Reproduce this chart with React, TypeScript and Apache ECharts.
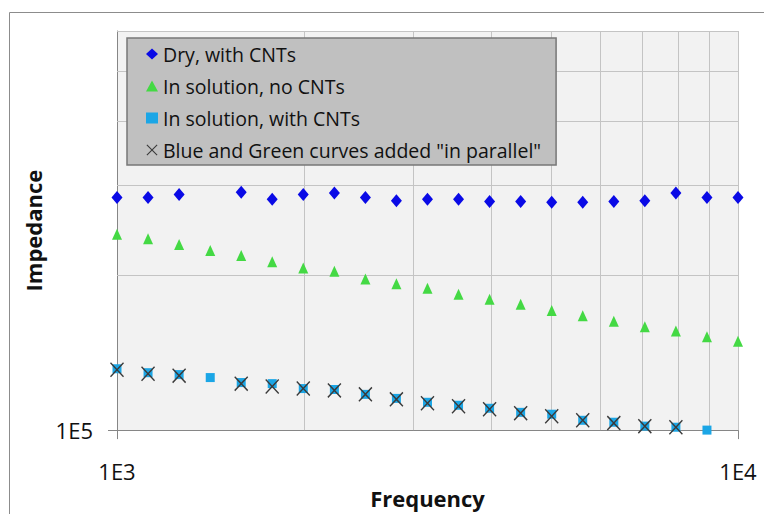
import React, { useEffect, useRef } from "react";
import * as echarts from "echarts";

const frequencies = [1000, 1122, 1259, 1413, 1585, 1778, 1995, 2239, 2512, 2818, 3162, 3548, 3981, 4467, 5012, 5623, 6310, 7079, 7943, 8913, 10000];
const dryWithCNTs = [284000, 284000, 288000, null, 291000, 282000, 288000, 290000, 284000, 280000, 282000, 282000, 279000, 279000, 278000, 278000, 279000, 280000, 290000, 284000, 284000];
const solutionNoCNTs = [241000, 236000, 230000, 224000, 219000, 213000, 207000, 204000, 197000, 193000, 189000, 184000, 180000, 176000, 171000, 167000, 163000, 159000, 156000, 152000, 149000];
const solutionWithCNTs = [131700, 129400, 128300, 126600, 123800, 123200, 120500, 120000, 117400, 115300, 113300, 111800, 110300, 108300, 107400, 104500, 103600, 101800, 101300, 100000, null];
const parallelCurves = [131100, 128800, 127700, null, 123200, 121600, 120500, 119500, 117400, 114800, 112800, 111300, 109800, 107900, 106400, 104500, 103200, 101800, 101300, null, null];

const seriesNames = ["Dry, with CNTs", "In solution, no CNTs", "In solution, with CNTs", 'Blue and Green curves added "in parallel"'];
const xTickValues = [1000, 10000];
const yTickValues = [100000];
const xGridValues = [2000, 3000, 4000, 5000, 6000, 7000, 8000, 9000, 10000];
const yGridValues = [200000, 300000, 400000, 500000, 600000];
const xMin = 1000, xMax = 10000, yMin = 100000, yMax = 600000;

const FONT = "Open Sans";
const xPath = "path://M0,7L7,0L50,43L93,0L100,7L57,50L100,93L93,100L50,57L7,100L0,93L43,50Z";

function pairs(vals: (number | null)[]) {
  const out: number[][] = [];
  vals.forEach((v, i) => { if (v !== null) out.push([frequencies[i], v]); });
  return out;
}

const fmt = (v: number) => {
  const e = Math.round(Math.log10(v));
  return "1E" + e;
};

export default function App() {
  const ref = useRef<HTMLDivElement>(null);
  useEffect(() => {
    document.body.style.margin = "0";
    const chart = echarts.init(ref.current!, undefined, { renderer: "svg" });
    chart.setOption({
      animation: false,
      backgroundColor: "#ffffff",
      textStyle: { fontFamily: FONT },
      graphic: [
        { type: "rect", left: 7, top: 10, shape: { width: 770, height: 520 }, style: { fill: "none", stroke: "#8c8c8c", lineWidth: 1 }, z: -10 },
      ],
      grid: { left: 117, right: 26, top: 31, bottom: 79, show: true, backgroundColor: "#f2f2f2", borderWidth: 0 },
      legend: {
        data: seriesNames,
        orient: "vertical",
        left: 127,
        top: 38,
        z: 20,
        padding: [6, 15, 5, 19],
        itemGap: 12,
        itemWidth: 12,
        itemHeight: 11,
        backgroundColor: "#c0c0c0",
        borderColor: "#777777",
        borderWidth: 1.5,
        textStyle: { fontFamily: FONT, fontSize: 19.5, color: "#111" },
      },
      xAxis: {
        type: "log",
        logBase: 10,
        min: xMin,
        max: xMax,
        name: "Frequency",
        nameLocation: "middle",
        nameGap: 54,
        nameTextStyle: { fontFamily: FONT, fontSize: 22, fontWeight: "bold", color: "#111" },
        axisLine: { show: true, lineStyle: { color: "#868686", width: 1 } },
        axisTick: { show: true, length: 9, inside: false, customValues: xTickValues, lineStyle: { color: "#868686" } },
        axisLabel: { customValues: xTickValues, formatter: fmt, fontSize: 22, color: "#111", margin: 30, fontFamily: FONT },
        splitLine: { show: false },
        minorTick: { show: false },
      },
      yAxis: {
        type: "log",
        logBase: 10,
        min: yMin,
        max: yMax,
        name: "Impedance",
        nameLocation: "middle",
        nameGap: 73,
        nameTextStyle: { fontFamily: FONT, fontSize: 22, fontWeight: "bold", color: "#111" },
        axisLine: { show: true, lineStyle: { color: "#868686", width: 1 } },
        axisTick: { show: true, length: 9, customValues: yTickValues, lineStyle: { color: "#868686" } },
        axisLabel: { customValues: yTickValues, formatter: fmt, fontSize: 22, color: "#111", margin: 24, fontFamily: FONT },
        splitLine: { show: false },
      },
      series: [
        {
          type: "scatter",
          name: "grid",
          data: [],
          z: 0,
          silent: true,
          markLine: {
            z: 1,
            silent: true,
            symbol: "none",
            label: { show: false },
            lineStyle: { color: "#c4c4c4", width: 1, type: "solid" },
            data: [
              ...xGridValues.map((v) => ({ xAxis: v })),
              ...yGridValues.map((v) => ({ yAxis: v })),
            ],
          },
        },
        {
          type: "scatter",
          name: seriesNames[0],
          data: pairs(dryWithCNTs),
          symbol: "diamond",
          symbolSize: [11, 13],
          clip: false,
          itemStyle: { color: "#0a0ae6", opacity: 1 },
          z: 3,
        },
        {
          type: "scatter",
          name: seriesNames[1],
          data: pairs(solutionNoCNTs),
          symbol: "triangle",
          symbolSize: [10, 11],
          clip: false,
          itemStyle: { color: "#44d944", opacity: 1 },
          z: 3,
        },
        {
          type: "scatter",
          name: seriesNames[2],
          data: pairs(solutionWithCNTs),
          symbol: "rect",
          symbolSize: [9, 9],
          clip: false,
          itemStyle: { color: "#1ba6e6", opacity: 1 },
          z: 3,
        },
        {
          type: "scatter",
          name: seriesNames[3],
          data: pairs(parallelCurves),
          symbol: xPath,
          symbolSize: [14, 15],
          clip: false,
          itemStyle: { color: "#3a3a3a", opacity: 1 },
          z: 4,
        },
      ],
    });
    return () => chart.dispose();
  }, []);
  return <div ref={ref} style={{ width: 764, height: 514 }} />;
}
